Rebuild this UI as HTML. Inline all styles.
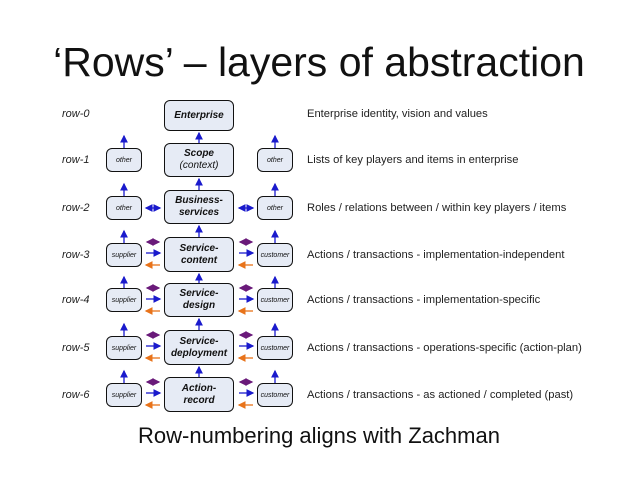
<!DOCTYPE html>
<html><head><style>
body{margin:0;width:638px;height:479px;background:#fff;font-family:"Liberation Sans",sans-serif;position:relative;overflow:hidden}
.t{position:absolute;white-space:nowrap}
.b{position:absolute;box-sizing:border-box;border:1.3px solid #111;border-radius:6px;background:#e6ebf5;display:flex;flex-direction:column;align-items:center;justify-content:center;text-align:center;font-style:italic;color:#111}
.c{left:164px;width:70px;font-weight:bold;font-size:10px;line-height:12px}
.s{width:36px;height:24px;font-size:7px}
.rl{left:62px;font-style:italic;font-size:11px;color:#222}
.rd{left:307px;font-size:11.2px;color:#222}
</style></head><body>
<div class="t" style="left:0;width:638px;text-align:center;top:39px;font-size:41px;color:#111">‘Rows’ – layers of abstraction</div>
<div class="t" style="left:0;width:638px;text-align:center;top:423px;font-size:22px;color:#111">Row-numbering aligns with Zachman</div>

<div class="t rl" style="top:108px">row-0</div>
<div class="t rl" style="top:154px">row-1</div>
<div class="t rl" style="top:202px">row-2</div>
<div class="t rl" style="top:249px">row-3</div>
<div class="t rl" style="top:294px">row-4</div>
<div class="t rl" style="top:342px">row-5</div>
<div class="t rl" style="top:389px">row-6</div>

<div class="t rd" style="top:108px">Enterprise identity, vision and values</div>
<div class="t rd" style="top:154px">Lists of key players and items in enterprise</div>
<div class="t rd" style="top:202px">Roles / relations between / within key players / items</div>
<div class="t rd" style="top:249px">Actions / transactions - implementation-independent</div>
<div class="t rd" style="top:294px">Actions / transactions - implementation-specific</div>
<div class="t rd" style="top:342px">Actions / transactions - operations-specific (action-plan)</div>
<div class="t rd" style="top:389px">Actions / transactions - as actioned / completed (past)</div>

<div class="b c" style="top:100px;height:31px">Enterprise</div>
<div class="b c" style="top:143px;height:34px"><div>Scope</div><div style="font-weight:normal">(context)</div></div>
<div class="b c" style="top:190px;height:34px"><div>Business-</div><div>services</div></div>
<div class="b c" style="top:237px;height:35px"><div>Service-</div><div>content</div></div>
<div class="b c" style="top:283px;height:34px"><div>Service-</div><div>design</div></div>
<div class="b c" style="top:330px;height:35px"><div>Service-</div><div>deployment</div></div>
<div class="b c" style="top:377px;height:35px"><div>Action-</div><div>record</div></div>

<div class="b s" style="left:106px;top:148px">other</div>
<div class="b s" style="left:257px;top:148px">other</div>
<div class="b s" style="left:106px;top:196px">other</div>
<div class="b s" style="left:257px;top:196px">other</div>
<div class="b s" style="left:106px;top:243px">supplier</div>
<div class="b s" style="left:257px;top:243px">customer</div>
<div class="b s" style="left:106px;top:288px">supplier</div>
<div class="b s" style="left:257px;top:288px">customer</div>
<div class="b s" style="left:106px;top:336px">supplier</div>
<div class="b s" style="left:257px;top:336px">customer</div>
<div class="b s" style="left:106px;top:383px">supplier</div>
<div class="b s" style="left:257px;top:383px">customer</div>

<svg width="638" height="479" style="position:absolute;left:0;top:0">
<defs>
<marker id="ab" markerWidth="6" markerHeight="6" refX="5" refY="3" orient="auto-start-reverse"><path d="M0,0L6,3L0,6z" fill="#1a1acc"/></marker>
<marker id="ap" markerWidth="6" markerHeight="6" refX="5" refY="3" orient="auto-start-reverse"><path d="M0,0L6,3L0,6z" fill="#6a1a7a"/></marker>
<marker id="ao" markerWidth="6" markerHeight="6" refX="5" refY="3" orient="auto-start-reverse"><path d="M0,0L6,3L0,6z" fill="#e8731a"/></marker>
</defs>
<g stroke="#1a1acc" stroke-width="1.3" marker-end="url(#ab)">
<line x1="199" y1="143" x2="199" y2="133"/>
<line x1="199" y1="190" x2="199" y2="179"/>
<line x1="199" y1="237" x2="199" y2="226"/>
<line x1="199" y1="283" x2="199" y2="274"/>
<line x1="199" y1="330" x2="199" y2="319"/>
<line x1="199" y1="377" x2="199" y2="367"/>
<line x1="124" y1="148" x2="124" y2="136"/><line x1="275" y1="148" x2="275" y2="136"/>
<line x1="124" y1="196" x2="124" y2="184"/><line x1="275" y1="196" x2="275" y2="184"/>
<line x1="124" y1="243" x2="124" y2="231"/><line x1="275" y1="243" x2="275" y2="231"/>
<line x1="124" y1="288" x2="124" y2="277"/><line x1="275" y1="288" x2="275" y2="277"/>
<line x1="124" y1="336" x2="124" y2="324"/><line x1="275" y1="336" x2="275" y2="324"/>
<line x1="124" y1="383" x2="124" y2="371"/><line x1="275" y1="383" x2="275" y2="371"/>
<line x1="146" y1="208" x2="160" y2="208" marker-start="url(#ab)"/>
<line x1="239" y1="208" x2="253" y2="208" marker-start="url(#ab)"/>
</g>
<g id="g3">
<line x1="147" y1="242" x2="159" y2="242" stroke="#6a1a7a" stroke-width="1.3" marker-end="url(#ap)" marker-start="url(#ap)"/>
<line x1="146" y1="253" x2="160" y2="253" stroke="#1a1acc" stroke-width="1.3" marker-end="url(#ab)"/>
<line x1="160" y1="265" x2="146" y2="265" stroke="#e8731a" stroke-width="1.3" marker-end="url(#ao)"/>
<line x1="240" y1="242" x2="252" y2="242" stroke="#6a1a7a" stroke-width="1.3" marker-end="url(#ap)" marker-start="url(#ap)"/>
<line x1="239" y1="253" x2="253" y2="253" stroke="#1a1acc" stroke-width="1.3" marker-end="url(#ab)"/>
<line x1="253" y1="265" x2="239" y2="265" stroke="#e8731a" stroke-width="1.3" marker-end="url(#ao)"/>
</g>
<use href="#g3" y="46"/>
<use href="#g3" y="93"/>
<use href="#g3" y="140"/>
</svg>
</body></html>
